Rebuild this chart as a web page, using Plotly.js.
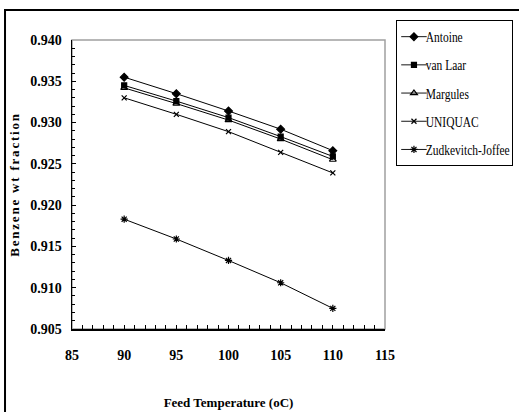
<!DOCTYPE html>
<html>
<head>
<meta charset="utf-8">
<script src="https://cdn.plot.ly/plotly-3.0.1.min.js"></script>
<style>
  html, body { margin: 0; padding: 0; background: #fff; }
  #chart { width: 519px; height: 412px; }
  .ytitle { letter-spacing: 1.8px; }
  /* narrow legend entries */
  .legend .legendtext { transform: translateX(-4px) scaleX(0.82); }
  .legend .legendlines path { transform: scaleX(0.85); }
  .legend .legendpoints path.scatterpts { transform: translate(17px, 0px); }
  .legend rect.bg { width: 116px; }
</style>
</head>
<body>
<div id="chart"></div>
<script>
// Feed temperature (oC)
const feedTemp = [90, 95, 100, 105, 110];

// Benzene wt fraction predicted by each model
const antoine   = [0.9355, 0.9335, 0.9314, 0.9292, 0.9266];
const vanLaar   = [0.9345, 0.9326, 0.9306, 0.9283, 0.9259];
const margules  = [0.9342, 0.9323, 0.9303, 0.9280, 0.9255];
const uniquac   = [0.9330, 0.9310, 0.9289, 0.9264, 0.9239];
const zudkevich = [0.9183, 0.9159, 0.9133, 0.9106, 0.9075];

const seriesNames = ['Antoine', 'van Laar', 'Margules', 'UNIQUAC', 'Zudkevitch-Joffee'];
const seriesData  = [antoine, vanLaar, margules, uniquac, zudkevich];
const symbols     = ['diamond', 'square', 'triangle-up-open', 'x-thin-open', 'asterisk-open'];
const sizes       = [6, 5, 6, 5, 6];

const traces = seriesNames.map((name, i) => ({
  x: feedTemp,
  y: seriesData[i],
  name: name,
  legendgroup: 'g' + i,
  type: 'scatter',
  mode: 'lines+markers',
  line: { color: '#000', width: 1 },
  marker: {
    symbol: symbols[i],
    size: sizes[i],
    color: '#000',
    line: { color: '#000', width: 1.2 }
  }
}));

const serif = 'Times New Roman';

const layout = {
  width: 519,
  height: 412,
  margin: { l: 72, r: 134, t: 40, b: 83, autoexpand: false },
  paper_bgcolor: '#fff',
  plot_bgcolor: '#fff',
  font: { family: serif, color: '#000' },
  showlegend: true,
  legend: {
    x: 1.035, xanchor: 'left',
    y: 1.069, yanchor: 'top',
    bgcolor: '#fff',
    bordercolor: '#000',
    borderwidth: 1,
    tracegroupgap: 7,
    itemwidth: 30,
    font: { family: serif, size: 14, color: '#000' }
  },
  xaxis: {
    range: [85, 115],
    tickvals: [85, 90, 95, 100, 105, 110, 115],
    ticks: 'inside',
    ticklen: 4,
    tickcolor: '#000',
    minor: { dtick: 1, ticks: 'inside', ticklen: 4, tickcolor: '#000' },
    showgrid: false,
    zeroline: false,
    showline: true,
    linecolor: '#000',
    linewidth: 1.5,
    ticklabelstandoff: 13,
    tickfont: { family: serif, size: 14, weight: 'bold' },
    title: {
      text: 'Feed Temperature (oC)',
      font: { family: serif, size: 13, weight: 'bold' },
      standoff: 35
    },
    automargin: false
  },
  yaxis: {
    range: [0.905, 0.940],
    tickvals: [0.905, 0.910, 0.915, 0.920, 0.925, 0.930, 0.935, 0.940],
    tickformat: '.3f',
    ticks: 'inside',
    ticklen: 4,
    tickcolor: '#000',
    minor: { dtick: 0.001, ticks: 'inside', ticklen: 3, tickcolor: '#000' },
    showgrid: false,
    zeroline: false,
    showline: true,
    linecolor: '#000',
    linewidth: 1.5,
    ticklabelstandoff: 6,
    tickfont: { family: serif, size: 14, weight: 'bold' },
    title: {
      text: 'Benzene wt fraction',
      font: { family: serif, size: 13, weight: 'bold' },
      standoff: 7
    },
    automargin: false
  },
  shapes: [
    // gray frame of the plotting area
    { type: 'rect', xref: 'paper', yref: 'paper', x0: 0, x1: 1, y0: 0, y1: 1,
      line: { color: '#a0a0a0', width: 1.5 }, layer: 'below' },
    // outer chart border (its right and bottom edges fall outside the page)
    { type: 'rect', xref: 'paper', yref: 'paper',
      x0: -0.214, x1: 1.6, y0: -0.32, y1: 1.104,
      line: { color: '#000', width: 2 }, layer: 'below' }
  ]
};

Plotly.newPlot('chart', traces, layout, { displayModeBar: false, staticPlot: true });
</script>
</body>
</html>
